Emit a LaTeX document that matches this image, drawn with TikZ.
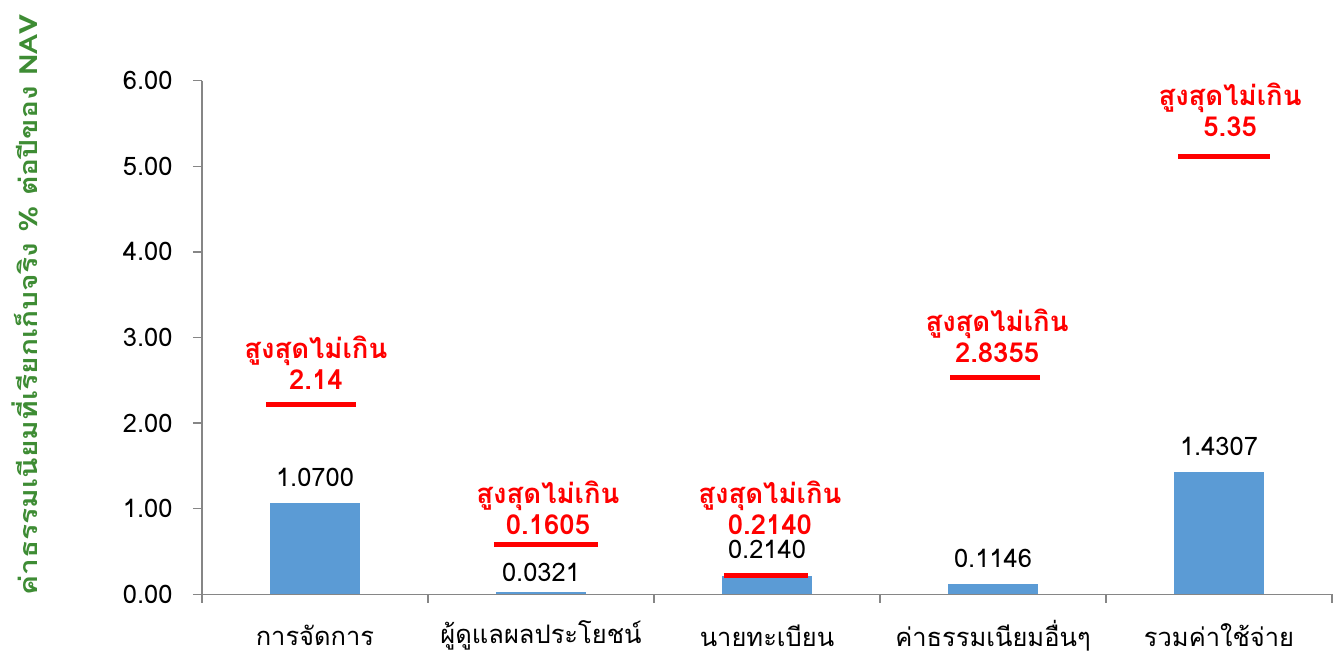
\documentclass[tikz,border=0pt]{standalone}
\usepackage{fontspec}
\setmainfont[Script=Thai]{Loma}
\newfontfamily\axistitlefont[Script=Thai,FakeStretch=1.2]{Loma}
\definecolor{barblue}{RGB}{91,155,213}
\definecolor{axisgray}{RGB}{134,134,134}
\definecolor{titlegreen}{RGB}{62,140,52}
\tikzset{
  bar/.style={fill=barblue},
  axisline/.style={draw=axisgray,line width=1.3pt},
  limline/.style={draw=red,line width=5pt},
  limlabel/.style={text=red,font=\fontsize{27.5}{31}\selectfont\bfseries,align=center},
  vallabel/.style={font=\fontsize{25.5}{30}\selectfont},
  ticklabel/.style={font=\fontsize{25.5}{30}\selectfont,anchor=east},
  catlabel/.style={font=\fontsize{25.5}{30}\selectfont,inner sep=0pt},
}
\begin{document}
\begin{tikzpicture}[x=226pt,y=85.6pt]
	\useasboundingbox (-0.8938,-0.6974) rectangle (5.0177,6.9428);
	% axis title
	\node (ytitle) at (-0.783, 3.38) [rotate=90, text=titlegreen, font=\axistitlefont\fontsize{25}{30}\selectfont\bfseries] {ค่าธรรมเนียมที่เรียกเก็บจริง \% ต่อปีของ NAV};
	% axes
	\draw[axisline] (0,6) -- (0,0) -- (5,0);
	\foreach \v in {0,1,...,6}
		\draw[axisline] (-0.04,\v) -- (0,\v);
	\foreach \c in {0,1,...,5}
		\draw[axisline] (\c,0) -- (\c,-0.105);
	\node (t0) at (-0.115, 0) [ticklabel] {0.00};
	\node (t1) at (-0.115, 1) [ticklabel] {1.00};
	\node (t2) at (-0.115, 2) [ticklabel] {2.00};
	\node (t3) at (-0.115, 3) [ticklabel] {3.00};
	\node (t4) at (-0.115, 4) [ticklabel] {4.00};
	\node (t5) at (-0.115, 5) [ticklabel] {5.00};
	\node (t6) at (-0.115, 6) [ticklabel] {6.00};
	% bars
	\fill[bar] (0.3,0) rectangle (0.7,1.0700);
	\fill[bar] (1.3,0) rectangle (1.7,0.0321);
	\fill[bar] (2.3,0) rectangle (2.7,0.2140);
	\fill[bar] (3.3,0) rectangle (3.7,0.1146);
	\fill[bar] (4.3,0) rectangle (4.7,1.4307);
	% values
	\node (v1) at (0.5, 1.370) [vallabel] {1.0700};
	\node (v2) at (1.5, 0.260) [vallabel] {0.0321};
	\node (v3) at (2.5, 0.530) [vallabel] {0.2140};
	\node (v4) at (3.5, 0.425) [vallabel] {0.1146};
	\node (v5) at (4.5, 1.732) [vallabel] {1.4307};
	% limits
	\draw[limline] (0.283,2.223) -- (0.681,2.223);
	\draw[limline] (1.292,0.579) -- (1.752,0.579);
	\draw[limline] (2.310,0.214) -- (2.681,0.214);
	\draw[limline] (3.310,2.538) -- (3.708,2.538);
	\draw[limline] (4.319,5.120) -- (4.726,5.120);
	\node (m1) at (0.504, 2.708) [limlabel] {สูงสุดไม่เกิน\\2.14};
	\node (m2) at (1.531, 1.014) [limlabel] {สูงสุดไม่เกิน\\0.1605};
	\node (m3) at (2.513, 1.014) [limlabel] {สูงสุดไม่เกิน\\0.2140};
	\node (m4) at (3.518, 3.023) [limlabel] {สูงสุดไม่เกิน\\2.8355};
	\node (m5) at (4.549, 5.658) [limlabel] {สูงสุดไม่เกิน\\5.35};
	% categories
	\node (c1) at (0.5, -0.48) [catlabel] {การจัดการ};
	\node (c2) at (1.5, -0.48) [catlabel] {ผู้ดูแลผลประโยชน์};
	\node (c3) at (2.5, -0.48) [catlabel] {นายทะเบียน};
	\node (c4) at (3.5, -0.48) [catlabel] {ค่าธรรมเนียมอื่นๆ};
	\node (c5) at (4.5, -0.48) [catlabel] {รวมค่าใช้จ่าย};
\end{tikzpicture}
\end{document}
